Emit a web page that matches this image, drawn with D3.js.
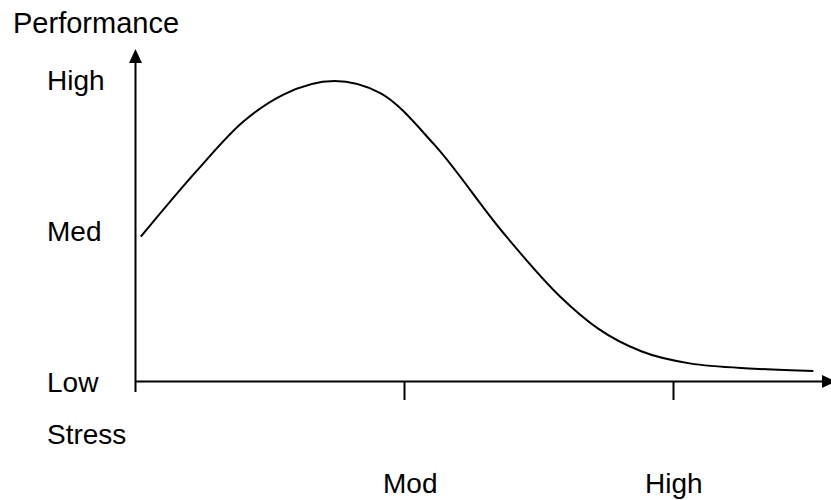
<!DOCTYPE html>
<html><head><meta charset="utf-8">
<script src="https://cdn.jsdelivr.net/npm/d3@7"></script>
<style>body{margin:0;background:#fff}svg{display:block}text{font-family:Arial,"Liberation Sans",sans-serif;fill:#000}</style>
</head><body>
<script>
const stressValues = [0.02,0.23,0.40,0.55,0.74,0.91,1.11,1.36,1.58,1.72,1.88,2.06,2.30,2.52];
const performanceValues = [0.96,1.40,1.72,1.90,1.99,1.91,1.57,1.00,0.56,0.35,0.20,0.12,0.085,0.07];
const xTickValues = [1,2];
const xTickLabels = ["Mod","High"];
const yTickValues = [0,1,2];
const yTickLabels = ["Low","Med","High"];
const xTitle = "Stress";
const yTitle = "Performance";

const W=831,H=500;
const svg=d3.select("body").append("svg").attr("width",W).attr("height",H);
const x=d3.scaleLinear().domain([0,1]).range([135.5,404.5]);
const y=d3.scaleLinear().domain([0,1]).range([381.5,230.5]);

// curve
const data=stressValues.map((s,i)=>({s,p:performanceValues[i]}));
svg.append("path").datum(data)
  .attr("fill","none").attr("stroke","#000").attr("stroke-width",2)
  .attr("d",d3.line().x(d=>x(d.s)).y(d=>y(d.p)).curve(d3.curveMonotoneX));

// axes
svg.append("line").attr("x1",x(0)).attr("x2",823).attr("y1",y(0)).attr("y2",y(0)).attr("stroke","#000").attr("stroke-width",2);
svg.append("line").attr("x1",x(0)).attr("x2",x(0)).attr("y1",392).attr("y2",62).attr("stroke","#000").attr("stroke-width",2);
// arrowheads
svg.append("path").attr("d",`M${x(0)},49 L${x(0)-6.5},63 L${x(0)+6.5},63 Z`).attr("fill","#000");
svg.append("path").attr("d",`M836,${y(0)} L822,${y(0)-6.5} L822,${y(0)+6.5} Z`).attr("fill","#000");

// x ticks
svg.selectAll(".xt").data(xTickValues).enter().append("line")
  .attr("x1",d=>x(d)).attr("x2",d=>x(d)).attr("y1",y(0)).attr("y2",400)
  .attr("stroke","#000").attr("stroke-width",2);
svg.selectAll(".xl").data(xTickValues).enter().append("text")
  .attr("x",(d,i)=>[383,645][i]).attr("y",493).attr("font-size",28)
  .text((d,i)=>xTickLabels[i]);

// y labels
svg.selectAll(".yl").data(yTickValues).enter().append("text")
  .attr("x",47).attr("y",d=>y(d)+10).attr("font-size",28)
  .text((d,i)=>yTickLabels[i]);

svg.append("text").attr("x",47).attr("y",444).attr("font-size",28).text(xTitle);
svg.append("text").attr("x",13).attr("y",33).attr("font-size",29).text(yTitle);
</script>
</body></html>
